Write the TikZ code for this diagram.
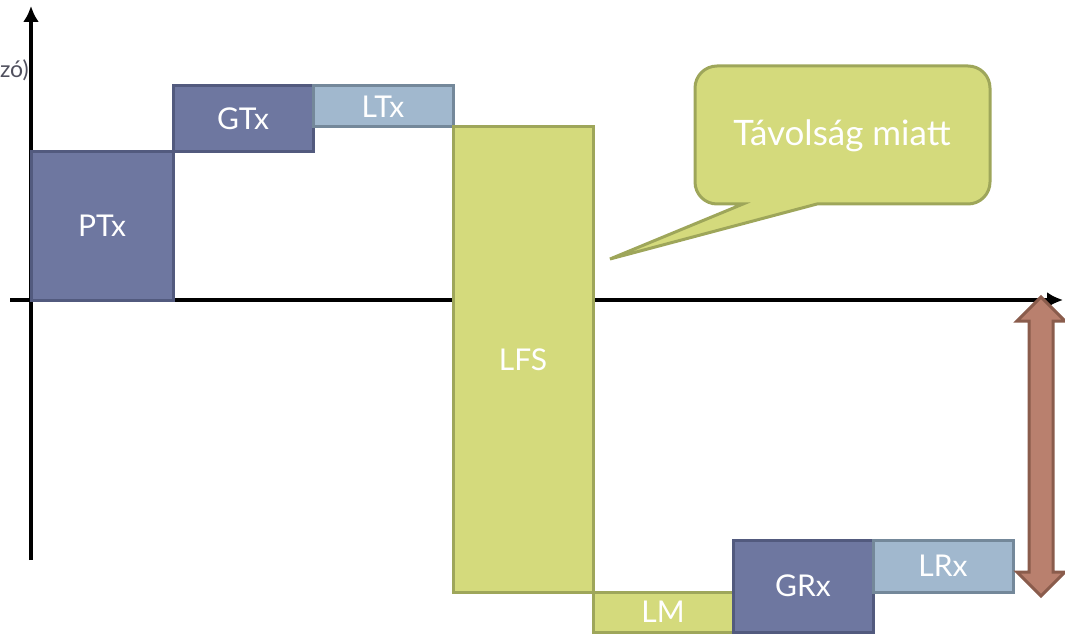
\documentclass[tikz,border=0pt]{standalone}
\usepackage{fontspec}
\setmainfont{Lato}
\usetikzlibrary{arrows.meta}
\definecolor{txfill}{HTML}{6E77A0}
\definecolor{txline}{HTML}{525A7E}
\definecolor{lossfill}{HTML}{A1B8CE}
\definecolor{lossline}{HTML}{74889A}
\definecolor{fsfill}{HTML}{D4DA7C}
\definecolor{fsline}{HTML}{9EA65A}
\definecolor{gapfill}{HTML}{B9806E}
\definecolor{gapline}{HTML}{8A5C4C}
\definecolor{labelgray}{HTML}{50505E}
\begin{document}
\begin{tikzpicture}[x=1pt, y=-1pt, line width=3pt, outer sep=0pt,
    gainbox/.style={draw=txline, fill=txfill, text=white, minimum width=140pt, inner sep=0pt, font=\fontsize{30}{34}\selectfont},
    lossbox/.style={gainbox, draw=lossline, fill=lossfill},
    fsbox/.style={gainbox, draw=fsline, fill=fsfill},
    axis/.style={line width=4pt, -{Latex[length=16pt,width=16pt]}}]
        \useasboundingbox (0,0) rectangle (1065,636);

        % axes
        \coordinate (o) at (31,300);
        \coordinate (yend) at (31,6);
        \coordinate (ybot) at (31,560);
        \coordinate (xbeg) at (10,300);
        \coordinate (xend) at (1063,300);
        \draw[axis] (ybot) -- (yend);
        \draw[axis] (xbeg) -- (xend);
        \node[text=labelgray, anchor=west, inner sep=0pt, font=\fontsize{23}{26}\selectfont] (ylab) at (0,70) {zó)};

        % link budget boxes
        \node[gainbox, minimum width=142pt, minimum height=148pt, anchor=south west] (ptx) at (o) {PTx};
        \node[gainbox, minimum height=66pt, anchor=south west] (gtx) at (ptx.north east) {GTx};
        \node[lossbox, minimum height=41pt, anchor=north west] (ltx) at (gtx.north east) {LTx};
        \node[fsbox, minimum height=465pt, anchor=north west] (lfs) at (ltx.south east) {LFS};
        \node[fsbox, minimum height=40pt, anchor=north west] (lm) at (lfs.south east) {LM};
        \node[gainbox, minimum height=92pt, anchor=south west] (grx) at (lm.south east) {GRx};
        \node[lossbox, minimum height=52pt, anchor=north west] (lrx) at (grx.north east) {LRx};

        % callout
        \coordinate (tip) at (610,259);
        \draw[fsline, fill=fsfill] (tip) -- (743,204) [rounded corners=22pt] -- (695,204) -- (695,66)
            -- (990,66) -- (990,204) [sharp corners] -- (817,204) -- cycle;
        \node[text=white, font=\fontsize{35}{40}\selectfont] (note) at (842,136) {Távolság miatt};

        % margin arrow
        \draw[gapline, fill=gapfill] (1041,297) -- (1065,321) -- (1053,321) -- (1053,572) -- (1065,572)
            -- (1041,596) -- (1017,572) -- (1029,572) -- (1029,321) -- (1017,321) -- cycle;
    \end{tikzpicture}
\end{document}
